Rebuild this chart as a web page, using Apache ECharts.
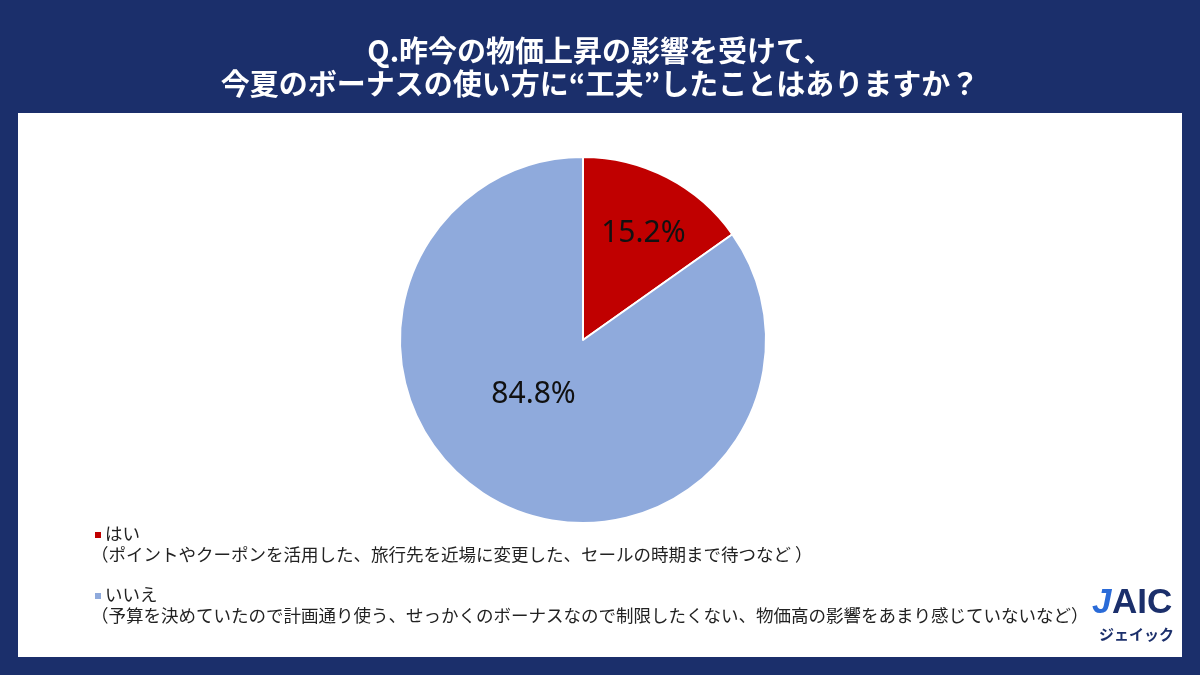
<!DOCTYPE html>
<html><head><meta charset="utf-8">
<script src="https://cdn.jsdelivr.net/npm/echarts@6/dist/echarts.min.js"></script>
<style>html,body{margin:0;padding:0;background:#1b2f6b;}#c{width:1200px;height:675px;}</style>
</head><body><div id="c"></div>
<script>
const titleLines = ['Q.昨今の物価上昇の影響を受けて、', '今夏のボーナスの使い方に“工夫”したことはありますか？'];
const categories = ['はい', 'いいえ'];
const descriptions = ['（ポイントやクーポンを活用した、旅行先を近場に変更した、セールの時期まで待つなど ）',
  '（予算を決めていたので計画通り使う、せっかくのボーナスなので制限したくない、物価高の影響をあまり感じていないなど）'];
const values = [15.2, 84.8];
const colors = ['#c00000', '#8faadc'];
const labelOffsets = [[17, -23], [-6, -29]];

const chart = echarts.init(document.getElementById('c'));
const font = '"Noto Sans CJK JP", "Noto Sans", sans-serif';
const legendGraphics = [];
categories.forEach((c, i) => {
  const y0 = 528 + i * 61;
  legendGraphics.push({type: 'rect', shape: {x: 95, y: y0 + 4, width: 6, height: 6}, style: {fill: colors[i]}});
  legendGraphics.push({type: 'text', x: 105, y: y0 - 3, style: {text: c, font: '17.5px ' + font, fill: '#222'}});
  legendGraphics.push({type: 'text', x: 91, y: y0 + 18, style: {text: descriptions[i], font: '17.5px ' + font, fill: '#222'}});
});

chart.setOption({
  backgroundColor: '#1b2f6b',
  title: {
    text: titleLines.join('\n'), left: 'center', top: 29,
    textStyle: {color: '#fff', fontSize: 29, fontWeight: 'bold', fontFamily: font, lineHeight: 33}
  },
  graphic: [
    {type: 'rect', z: -10, shape: {x: 18, y: 113, width: 1164, height: 544}, style: {fill: '#ffffff'}},
    ...legendGraphics,
    {type: 'text', x: 1092, y: 586, style: {text: 'J', font: 'italic bold 35px "Liberation Sans", sans-serif', fill: '#2a6bd8'}},
    {type: 'text', x: 1112, y: 586, style: {text: 'AIC', font: 'bold 35px "Liberation Sans", sans-serif', fill: '#1b2f6b'}},
    {type: 'text', x: 1099, y: 627, style: {text: 'ジェイック', font: 'bold 15px ' + font, fill: '#1b2f6b'}}
  ],
  series: [{
    type: 'pie', center: [583, 340], radius: 183, startAngle: 90, clockwise: true,
    animation: false, silent: true,
    itemStyle: {borderColor: '#fff', borderWidth: 2},
    label: {position: 'inside', fontSize: 30, color: '#111', fontFamily: '"Noto Sans", sans-serif',
      formatter: p => p.value.toFixed(1) + '%'},
    labelLine: {show: false},
    data: categories.map((c, i) => ({name: c, value: values[i], itemStyle: {color: colors[i]}, label: {offset: labelOffsets[i]}}))
  }]
});
</script></body></html>
